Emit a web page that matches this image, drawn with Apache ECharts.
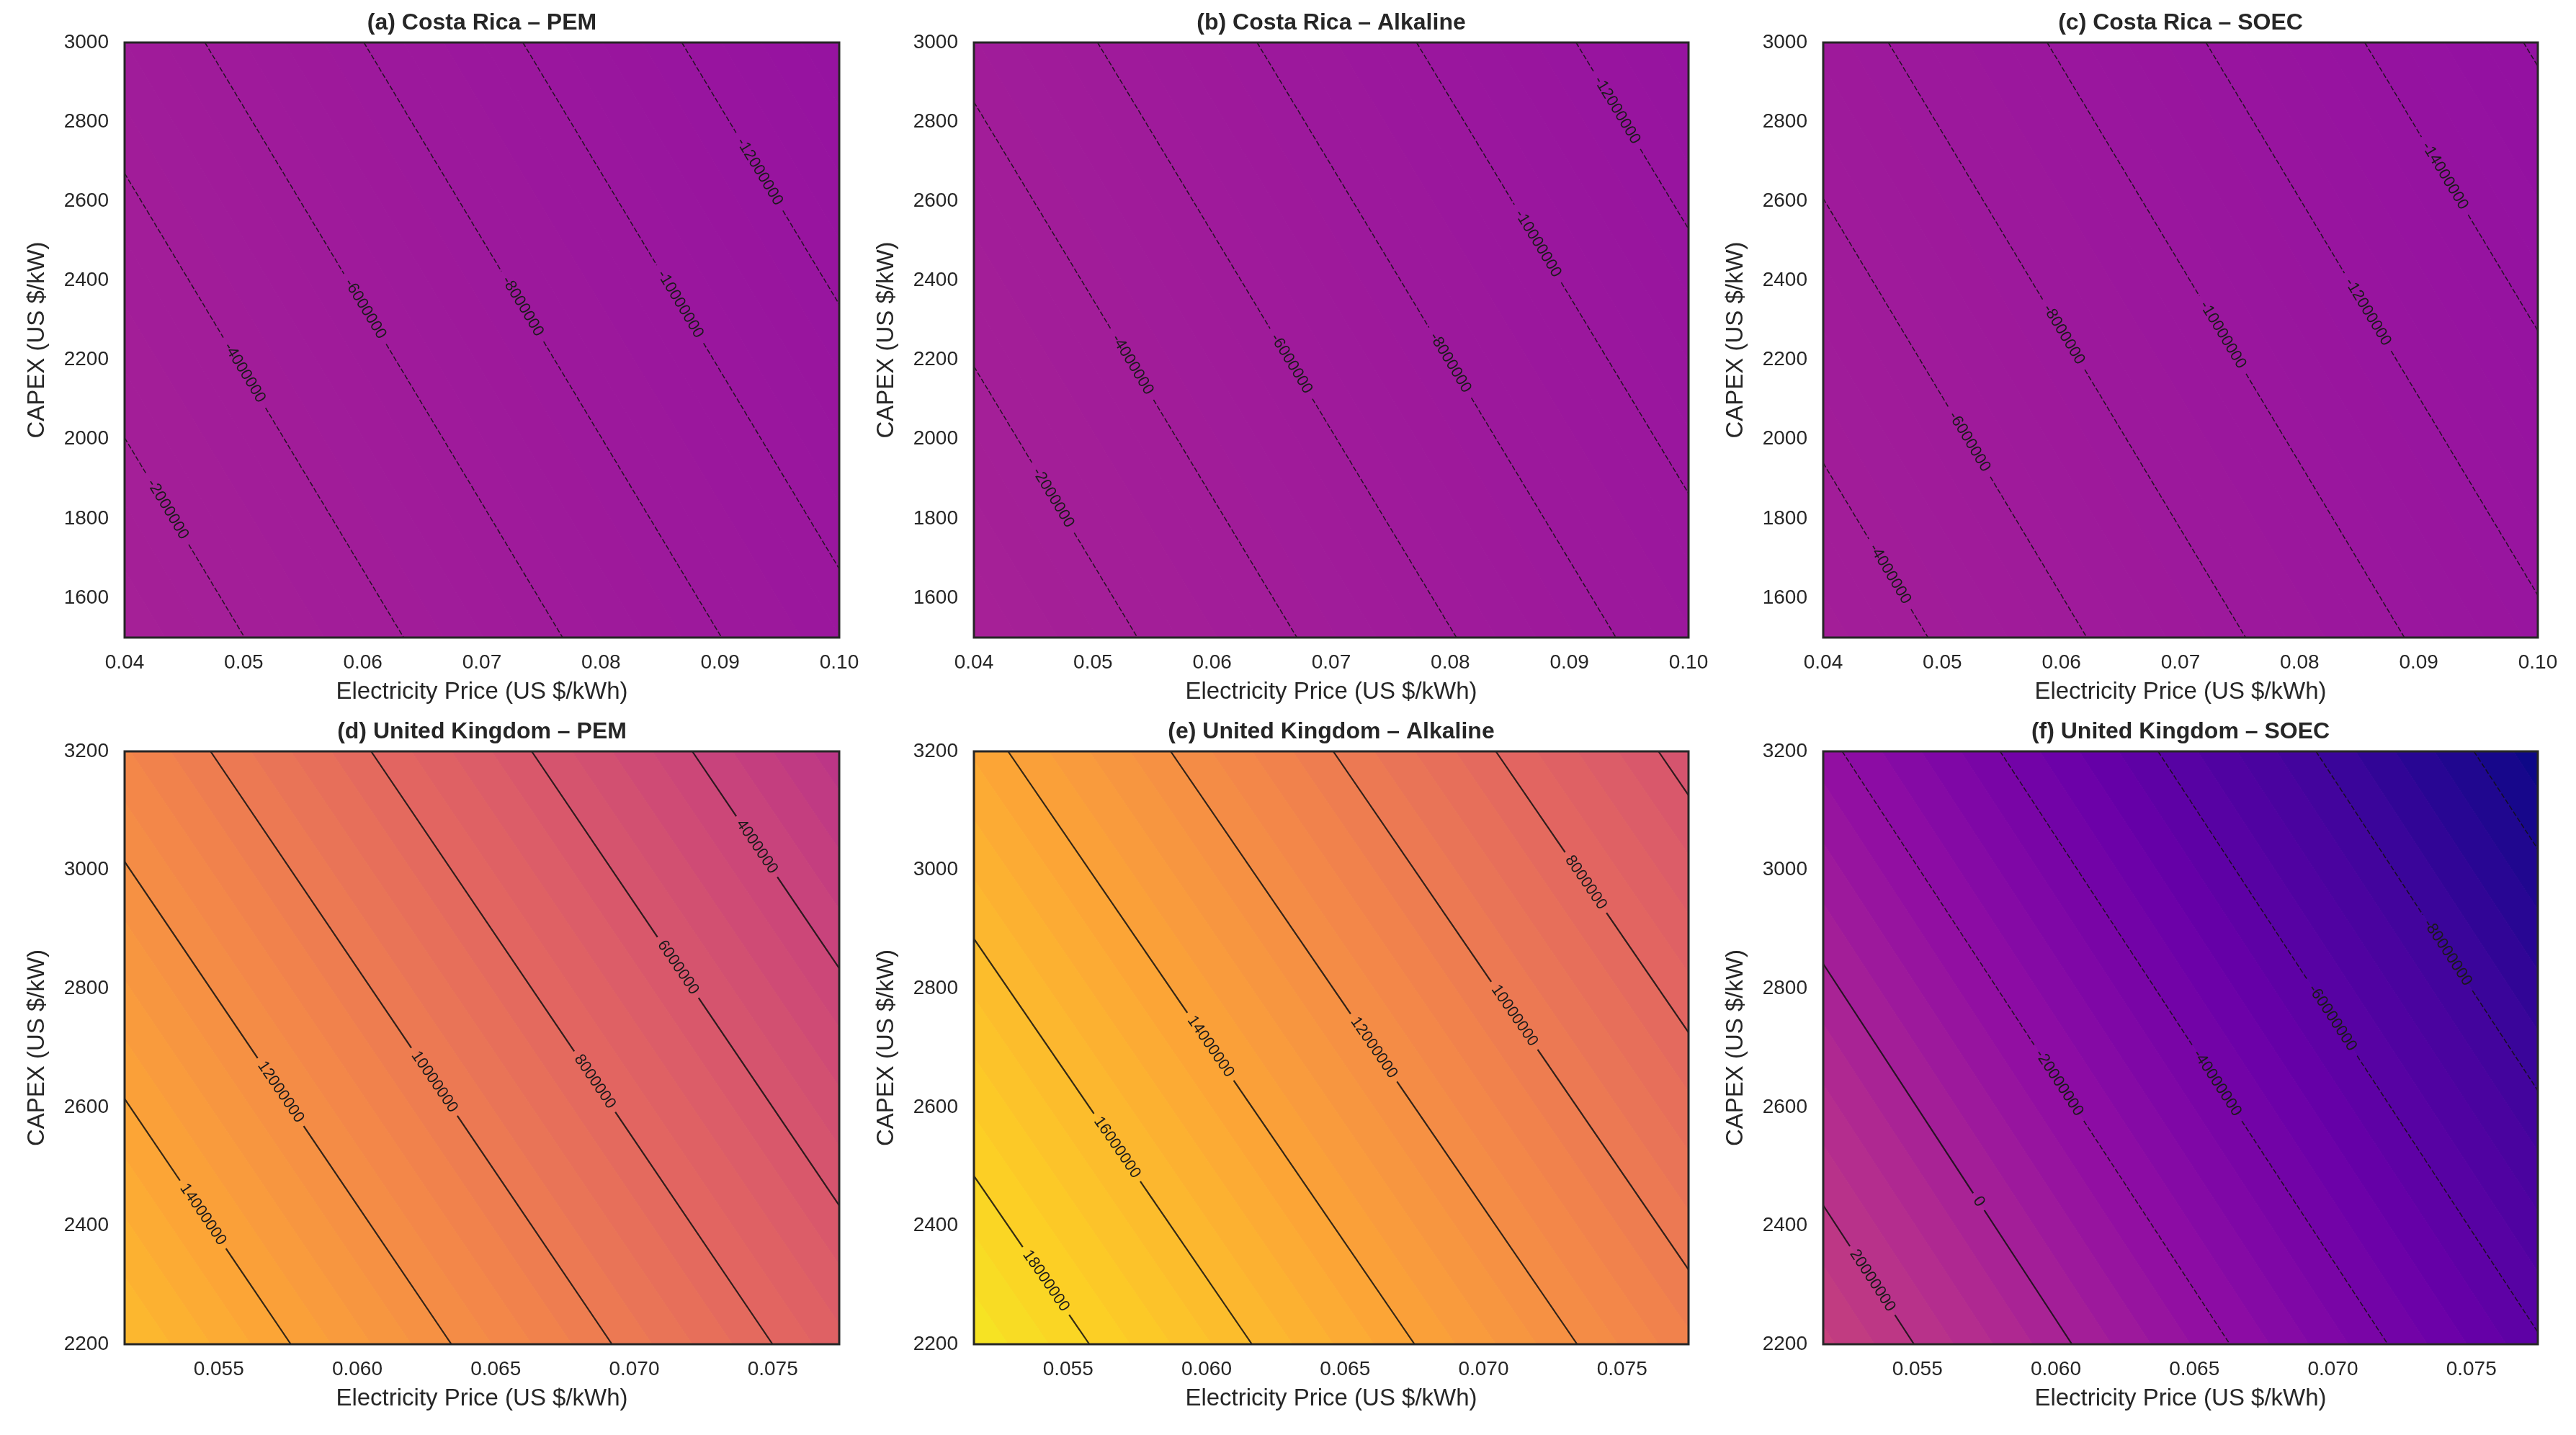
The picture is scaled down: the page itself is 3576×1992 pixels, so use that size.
<!DOCTYPE html>
<html>
<head>
<meta charset="utf-8">
<script src="https://cdn.jsdelivr.net/npm/echarts@6/dist/echarts.min.js"></script>
<style>
html, body { margin: 0; padding: 0; background: #fff; }
#main { width: 3576px; height: 1992px; }
</style>
</head>
<body>
<div id="main"></div>
<script>
// axis ranges
const crPrice = [0.04, 0.10];
const crCapex = [1500, 3000];
const ukPrice = [0.0516, 0.0774];
const ukCapex = [2200, 3200];

// tick labels
const crPriceTicks = [0.04, 0.05, 0.06, 0.07, 0.08, 0.09, 0.10];
const crCapexTicks = [1600, 1800, 2000, 2200, 2400, 2600, 2800, 3000];
const ukPriceTicks = [0.055, 0.060, 0.065, 0.070, 0.075];
const ukCapexTicks = [2200, 2400, 2600, 2800, 3000, 3200];

const panelTitles = [
  '(a) Costa Rica – PEM', '(b) Costa Rica – Alkaline', '(c) Costa Rica – SOEC',
  '(d) United Kingdom – PEM', '(e) United Kingdom – Alkaline', '(f) United Kingdom – SOEC'
];

// NPV (US$) at the plot corners: [bottom-left, bottom-right, top-left, top-right]
const npvA = [-0.49e6, -9.48e6, -4.99e6, -13.98e6];
const npvB = [0.05e6, -8.91e6, -4.45e6, -13.41e6];
const npvC = [-2.68e6, -11.68e6, -7.18e6, -16.18e6];
const npvD = [16.07e6, 7.17e6, 11.07e6, 2.17e6];
const npvE = [19.42e6, 10.63e6, 14.42e6, 5.63e6];
const npvF = [31.5e6, -59.0e6, -17.6e6, -108.1e6];

// contour line levels
const linesA = [-2e6, -4e6, -6e6, -8e6, -10e6, -12e6];
const linesB = [-2e6, -4e6, -6e6, -8e6, -10e6, -12e6];
const linesC = [-4e6, -6e6, -8e6, -10e6, -12e6, -14e6, -16e6];
const linesD = [14e6, 12e6, 10e6, 8e6, 6e6, 4e6];
const linesE = [18e6, 16e6, 14e6, 12e6, 10e6, 8e6, 6e6];
const linesF = [20e6, 0, -20e6, -40e6, -60e6, -80e6, -100e6];

// where each contour label sits [price, capex] (null = no label)
const labelsA = [[0.0436, 1823], [0.0503, 2172], [0.0605, 2334], [0.0737, 2340], [0.0869, 2345], [0.0934, 2676]];
const labelsB = [[0.0470, 1859], [0.0537, 2195], [0.0669, 2195], [0.0801, 2195], [0.0875, 2496], [0.0938, 2826]];
const labelsC = [[0.0457, 1662], [0.0525, 1998], [0.0602, 2264], [0.0736, 2264], [0.0858, 2322], [0.0922, 2664], null];
const labelsD = [[0.05456, 2423], [0.05735, 2629], [0.06283, 2644], [0.06861, 2644], [0.07169, 2839], [0.07448, 3041]];
const labelsE = [[0.0543, 2310], [0.0569, 2536], [0.0603, 2707], [0.0660, 2699], [0.0712, 2757], [0.0737, 2979], null];
const labelsF = [[0.05333, 2306], [0.05717, 2439], [0.06012, 2641], [0.06583, 2641], [0.07006, 2753], [0.07419, 2862], null];

const plasmaStops = ['#0d0887', '#41049d', '#6a00a8', '#8f0da4', '#b12a90', '#cc4778',
  '#e16462', '#f2844b', '#fca636', '#fcce25', '#f0f921'];

const FONT = '"Liberation Sans", Arial, sans-serif';
const TEXT = '#262626';

function hexRgb(h) {
  return [parseInt(h.slice(1, 3), 16), parseInt(h.slice(3, 5), 16), parseInt(h.slice(5, 7), 16)];
}
function plasma(t) {
  t = Math.max(0, Math.min(1, t));
  const f = t * 10, i = Math.min(9, Math.floor(f)), r = f - i;
  const a = hexRgb(plasmaStops[i]), b = hexRgb(plasmaStops[i + 1]);
  const c = a.map((v, k) => Math.round(v + (b[k] - v) * r));
  return 'rgb(' + c.join(',') + ')';
}

const normCR = [-108e6, 186e6];
const normUK = [-12.5e6, 21e6];

const panels = [
  { xr: crPrice, yr: crCapex, xt: crPriceTicks, yt: crCapexTicks, npv: npvA, lines: linesA, labels: labelsA, step: 0.5e6, norm: normCR, dec: 2 },
  { xr: crPrice, yr: crCapex, xt: crPriceTicks, yt: crCapexTicks, npv: npvB, lines: linesB, labels: labelsB, step: 0.5e6, norm: normCR, dec: 2 },
  { xr: crPrice, yr: crCapex, xt: crPriceTicks, yt: crCapexTicks, npv: npvC, lines: linesC, labels: labelsC, step: 0.5e6, norm: normCR, dec: 2 },
  { xr: ukPrice, yr: ukCapex, xt: ukPriceTicks, yt: ukCapexTicks, npv: npvD, lines: linesD, labels: labelsD, step: 0.5e6, norm: normUK, dec: 3 },
  { xr: ukPrice, yr: ukCapex, xt: ukPriceTicks, yt: ukCapexTicks, npv: npvE, lines: linesE, labels: labelsE, step: 0.5e6, norm: normUK, dec: 3 },
  { xr: ukPrice, yr: ukCapex, xt: ukPriceTicks, yt: ukCapexTicks, npv: npvF, lines: linesF, labels: labelsF, step: 5e6, norm: normCR, dec: 3 }
];

const colLeft = [173, 1352, 2531];
const rowTop = [59, 1043];
const rowH = [826, 823];
const plotW = 992;

// keep the part of poly where fn(v) >= 0
function clipPoly(poly, fn) {
  const out = [];
  for (let i = 0; i < poly.length; i++) {
    const a = poly[i], b = poly[(i + 1) % poly.length];
    const da = fn(a.v), db = fn(b.v);
    if (da >= 0) out.push(a);
    if ((da >= 0) !== (db >= 0)) {
      const t = da / (da - db);
      out.push({ x: a.x + (b.x - a.x) * t, y: a.y + (b.y - a.y) * t, v: a.v + (b.v - a.v) * t });
    }
  }
  return out;
}

function makeRenderer(p) {
  return function (params, api) {
    const children = [];
    const c = p.npv;
    const box = [
      { x: p.xr[0], y: p.yr[0], v: c[0] }, { x: p.xr[1], y: p.yr[0], v: c[1] },
      { x: p.xr[1], y: p.yr[1], v: c[3] }, { x: p.xr[0], y: p.yr[1], v: c[2] }
    ];
    const vmin = Math.min.apply(null, c), vmax = Math.max.apply(null, c);
    const k0 = Math.floor(vmin / p.step), k1 = Math.ceil(vmax / p.step);
    // filled bands
    for (let k = k0; k < k1; k++) {
      const lo = k * p.step, hi = (k + 1) * p.step;
      let poly = clipPoly(box, v => v - lo);
      poly = clipPoly(poly, v => hi - v);
      if (poly.length < 3) continue;
      const col = plasma(((lo + hi) / 2 - p.norm[0]) / (p.norm[1] - p.norm[0]));
      children.push({
        type: 'polygon',
        shape: { points: poly.map(q => api.coord([q.x, q.y])) },
        style: { fill: col, stroke: col, lineWidth: 1 }
      });
    }
    // contour lines with inline labels
    const fs = 22;
    p.lines.forEach((L, li) => {
      const pts = [];
      for (let i = 0; i < 4; i++) {
        const a = box[i], b = box[(i + 1) % 4];
        if ((a.v - L) * (b.v - L) < 0) {
          const t = (L - a.v) / (b.v - a.v);
          pts.push(api.coord([a.x + (b.x - a.x) * t, a.y + (b.y - a.y) * t]));
        }
      }
      if (pts.length < 2) return;
      let P0 = pts[0], P1 = pts[1];
      if (P1[0] < P0[0]) { const tmp = P0; P0 = P1; P1 = tmp; }
      const dx = P1[0] - P0[0], dy = P1[1] - P0[1];
      const len = Math.hypot(dx, dy), ux = dx / len, uy = dy / len;
      const style = { stroke: 'rgba(15,15,15,0.85)', lineWidth: L < 0 ? 1.5 : 2.2, fill: null };
      if (L < 0) style.lineDash = [7, 3];
      const lab = p.labels[li];
      if (!lab) {
        children.push({ type: 'polyline', shape: { points: [P0, P1] }, style: style });
        return;
      }
      const txt = String(Math.round(L));
      const lp = api.coord(lab);
      const s = Math.max(0, Math.min(len, (lp[0] - P0[0]) * ux + (lp[1] - P0[1]) * uy));
      const half = txt.length * fs * 0.556 / 2 + 8;
      const cx = P0[0] + ux * s, cy = P0[1] + uy * s;
      if (s - half > 0) {
        children.push({ type: 'polyline', shape: { points: [P0, [cx - ux * half, cy - uy * half]] }, style: style });
      }
      if (s + half < len) {
        children.push({ type: 'polyline', shape: { points: [[cx + ux * half, cy + uy * half], P1] }, style: style });
      }
      children.push({
        type: 'text', x: cx, y: cy, rotation: -Math.atan2(uy, ux),
        style: { text: txt, fill: '#1a1a1a', font: fs + 'px ' + FONT, align: 'center', verticalAlign: 'middle' }
      });
    });
    const cs = params.coordSys;
    children.push({
      type: 'rect',
      shape: { x: cs.x, y: cs.y, width: cs.width, height: cs.height },
      style: { fill: null, stroke: TEXT, lineWidth: 3 }
    });
    return { type: 'group', children: children };
  };
}

const grids = [], xAxes = [], yAxes = [], series = [], graphics = [];
panels.forEach((p, i) => {
  const col = i % 3, row = Math.floor(i / 3);
  grids.push({ left: colLeft[col], top: rowTop[row], width: plotW, height: rowH[row], show: false });
  xAxes.push({
    gridIndex: i, type: 'value', min: p.xr[0], max: p.xr[1],
    axisLine: { show: false }, axisTick: { show: false }, splitLine: { show: false },
    axisLabel: {
      customValues: p.xt, margin: 21, fontSize: 28, color: TEXT, fontFamily: FONT,
      formatter: v => v.toFixed(p.dec)
    },
    name: 'Electricity Price (US $/kWh)', nameLocation: 'middle', nameGap: 59,
    nameTextStyle: { fontSize: 33, color: TEXT, fontFamily: FONT }
  });
  yAxes.push({
    gridIndex: i, type: 'value', min: p.yr[0], max: p.yr[1],
    axisLine: { show: false }, axisTick: { show: false }, splitLine: { show: false },
    axisLabel: {
      customValues: p.yt, margin: 22, fontSize: 28, color: TEXT, fontFamily: FONT,
      formatter: v => String(Math.round(v))
    },
    name: 'CAPEX (US $/kW)', nameLocation: 'middle', nameGap: 105,
    nameTextStyle: { fontSize: 33, color: TEXT, fontFamily: FONT }
  });
  series.push({
    type: 'custom', xAxisIndex: i, yAxisIndex: i, data: [[0]],
    renderItem: makeRenderer(p), clip: false, silent: true
  });
  graphics.push({
    type: 'text', x: colLeft[col] + plotW / 2, y: rowTop[row] - 27,
    style: { text: panelTitles[i], fill: TEXT, font: 'bold 32px ' + FONT, align: 'center', verticalAlign: 'middle' }
  });
});

const chart = echarts.init(document.getElementById('main'), null, { renderer: 'canvas' });
chart.setOption({
  backgroundColor: '#ffffff',
  animation: false,
  grid: grids,
  xAxis: xAxes,
  yAxis: yAxes,
  series: series,
  graphic: graphics
});
</script>
</body>
</html>
